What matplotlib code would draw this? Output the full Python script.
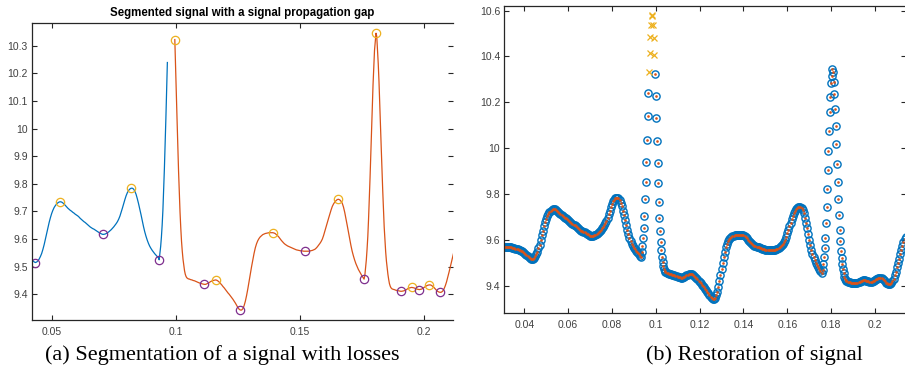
import numpy as np
import matplotlib
matplotlib.use("Agg")
import matplotlib.pyplot as plt
from matplotlib.ticker import FixedLocator, FuncFormatter

plt.rcParams["font.family"] = ["Liberation Sans", "DejaVu Sans"]

# ---- sampled signal -------------------------------------------------------
# slow part before the first spike, 0.5 ms grid starting at 31 ms
seg_a_v = [9.570, 9.570, 9.569, 9.569, 9.568, 9.568, 9.567, 9.566, 9.565, 9.564,
           9.562, 9.561, 9.559, 9.557, 9.555, 9.553, 9.550, 9.547, 9.544, 9.540,
           9.536, 9.531, 9.526, 9.521, 9.517, 9.515, 9.517, 9.521, 9.528, 9.537,
           9.548, 9.563, 9.580, 9.600, 9.620, 9.640, 9.660, 9.677, 9.692, 9.704,
           9.714, 9.721, 9.727, 9.731, 9.734, 9.735, 9.734, 9.731, 9.727, 9.722,
           9.717, 9.712, 9.708, 9.704, 9.701, 9.697, 9.694, 9.690, 9.687, 9.684,
           9.680, 9.675, 9.671, 9.667, 9.663, 9.660, 9.656, 9.652, 9.648, 9.644,
           9.641, 9.638, 9.636, 9.633, 9.630, 9.627, 9.624, 9.621, 9.619, 9.617,
           9.617, 9.618, 9.620, 9.623, 9.626, 9.630, 9.634, 9.639, 9.644, 9.650,
           9.656, 9.663, 9.672, 9.683, 9.697, 9.712, 9.728, 9.743, 9.757, 9.768,
           9.776, 9.781, 9.784, 9.784, 9.781, 9.773, 9.762, 9.746, 9.728, 9.708,
           9.688, 9.666, 9.645, 9.626, 9.610, 9.596, 9.584, 9.574, 9.566, 9.559,
           9.553, 9.547, 9.542, 9.537, 9.532]
seg_a_t0 = 0.031

# first spike, native 0.3 ms sampling
peak1_v = [9.525, 9.548, 9.573, 9.607, 9.650, 9.704, 9.777, 9.854, 9.941, 10.036,
           10.142, 10.239, 10.334, 10.417, 10.486, 10.537, 10.578, 10.582, 10.535,
           10.482, 10.407, 10.322, 10.229, 10.130, 10.033, 9.934, 9.847, 9.766,
           9.697, 9.640, 9.592, 9.556, 9.527, 9.505, 9.486, 9.473, 9.465, 9.460]
peak1_t0 = 0.0933

# middle part, 0.5 ms grid
seg_b_v = [9.456, 9.455, 9.453, 9.452, 9.450, 9.449, 9.447, 9.445, 9.443, 9.441,
           9.440, 9.438, 9.437, 9.436, 9.436, 9.438, 9.440, 9.443, 9.446, 9.448,
           9.450, 9.451, 9.452, 9.451, 9.448, 9.444, 9.439, 9.434, 9.428, 9.423,
           9.417, 9.411, 9.405, 9.400, 9.394, 9.388, 9.382, 9.375, 9.368, 9.360,
           9.352, 9.346, 9.343, 9.343, 9.348, 9.359, 9.375, 9.396, 9.420, 9.447,
           9.474, 9.500, 9.525, 9.548, 9.568, 9.583, 9.594, 9.602, 9.608, 9.612,
           9.616, 9.618, 9.620, 9.621, 9.622, 9.623, 9.623, 9.623, 9.623, 9.622,
           9.620, 9.616, 9.612, 9.607, 9.601, 9.595, 9.590, 9.585, 9.581, 9.578,
           9.575, 9.573, 9.571, 9.569, 9.567, 9.565, 9.563, 9.561, 9.560, 9.559,
           9.558, 9.557, 9.557, 9.556, 9.556, 9.556, 9.556, 9.556, 9.557, 9.558,
           9.559, 9.561, 9.563, 9.567, 9.572, 9.578, 9.584, 9.591, 9.600, 9.613,
           9.628, 9.644, 9.660, 9.675, 9.690, 9.705, 9.718, 9.727, 9.734, 9.739,
           9.743, 9.744, 9.742, 9.737, 9.730, 9.716, 9.697, 9.674, 9.650, 9.625,
           9.600, 9.577, 9.556, 9.539, 9.524, 9.511, 9.500, 9.490, 9.482, 9.474,
           9.466]
seg_b_t0 = 0.105

# second spike, native 0.3 ms sampling
peak2_v = [9.455, 9.468, 9.495, 9.524, 9.563, 9.609, 9.672, 9.745, 9.821, 9.905,
           9.989, 10.075, 10.157, 10.225, 10.283, 10.316, 10.345, 10.334, 10.287,
           10.235, 10.171, 10.095, 10.017, 9.932, 9.851, 9.777, 9.708, 9.643,
           9.596, 9.553, 9.520, 9.495, 9.472, 9.454, 9.439, 9.430, 9.424]
peak2_t0 = 0.1758

# tail, 0.5 ms grid
seg_c_v = [9.420, 9.418, 9.417, 9.415, 9.414, 9.413, 9.412, 9.411, 9.411, 9.412,
           9.413, 9.415, 9.418, 9.421, 9.423, 9.424, 9.425, 9.424, 9.423, 9.421,
           9.419, 9.418, 9.417, 9.418, 9.419, 9.422, 9.425, 9.428, 9.431, 9.433,
           9.434, 9.434, 9.432, 9.428, 9.424, 9.419, 9.414, 9.410, 9.408, 9.407,
           9.408, 9.412, 9.420, 9.431, 9.445, 9.462, 9.480, 9.499, 9.518, 9.537,
           9.556, 9.574, 9.590, 9.602, 9.612]
seg_c_t0 = 0.187

COARSE_DT = 0.0005
FINE_DT = 0.0003

# samples lost between the end of segment 1 and the start of segment 2
gap_window = (0.0968, 0.0995)

# approximate times of the segment extrema
maxima_t = [0.0535, 0.0823, 0.0996, 0.1160, 0.1394, 0.1656, 0.1806, 0.1950, 0.2023]
minima_t = [0.0435, 0.0710, 0.0933, 0.1117, 0.1263, 0.1525, 0.1758, 0.1910, 0.1982, 0.2067]

left_xticks = [0.05, 0.1, 0.15, 0.2]
left_yticks = [9.4, 9.5, 9.6, 9.7, 9.8, 9.9, 10.0, 10.1, 10.2, 10.3]
right_xticks = [0.04, 0.06, 0.08, 0.1, 0.12, 0.14, 0.16, 0.18, 0.2]
right_yticks = [9.4, 9.6, 9.8, 10.0, 10.2, 10.4, 10.6]

title_text = "Segmented signal with a signal propagation gap"
caption_a = "(a) Segmentation of a signal with losses"
caption_b = "(b) Restoration of signal"

C_BLUE = "#0072BD"
C_ORANGE = "#D95319"
C_YELLOW = "#EDB120"
C_PURPLE = "#7E2F8E"
TICK_COLOR = "#262626"


def grid(t0, dt, vals):
    return t0 + dt * np.arange(len(vals))


t = np.concatenate([grid(seg_a_t0, COARSE_DT, seg_a_v),
                    grid(peak1_t0, FINE_DT, peak1_v),
                    grid(seg_b_t0, COARSE_DT, seg_b_v),
                    grid(peak2_t0, FINE_DT, peak2_v),
                    grid(seg_c_t0, COARSE_DT, seg_c_v)])
v = np.concatenate([seg_a_v, peak1_v, seg_b_v, peak2_v, seg_c_v]).astype(float)
order = np.argsort(t)
t, v = t[order], v[order]

lost = (t > gap_window[0]) & (t < gap_window[1])
kept = ~lost
seg1 = t <= gap_window[0]
seg2 = t >= gap_window[1]


def local_extreme(times, fn):
    idx = []
    for tc in times:
        w = np.where(kept & (np.abs(t - tc) <= 0.0008))[0]
        idx.append(w[fn(v[w])])
    return np.array(idx)


imax = local_extreme(maxima_t, np.argmax)
imin = local_extreme(minima_t, np.argmin)

fmt = FuncFormatter(lambda x, pos: f"{x:g}")

fig = plt.figure(figsize=(9.05, 3.76), dpi=100)

# ---- (a) segmented signal --------------------------------------------------
ax1 = fig.add_axes([32 / 905, 56 / 376, 420.5 / 905, 297 / 376])
ax1.plot(t[seg1], v[seg1], color=C_BLUE, lw=0.9)
ax1.plot(t[seg2], v[seg2], color=C_ORANGE, lw=0.9)
ax1.plot(t[imax], v[imax], "o", mfc="none", mec=C_YELLOW, ms=6, mew=0.9)
ax1.plot(t[imin], v[imin], "o", mfc="none", mec=C_PURPLE, ms=6, mew=0.9)
ax1.set_xlim(0.0421, 0.2114)
ax1.set_ylim(9.307, 10.382)
ax1.xaxis.set_major_locator(FixedLocator(left_xticks))
ax1.yaxis.set_major_locator(FixedLocator(left_yticks))
ax1.spines["right"].set_visible(False)
ax1.set_title(title_text, fontsize=8.3, fontweight="bold", pad=5)

# ---- (b) restored signal ---------------------------------------------------
ax2 = fig.add_axes([504.3 / 905, 62.7 / 376, 402 / 905, 307.3 / 376])
ax2.plot(t[kept], v[kept], "o", mfc="none", mec=C_BLUE, ms=5.2, mew=1.0, ls="none")
ax2.plot(t[kept], v[kept], "o", color=C_ORANGE, ms=1.9, mew=0, ls="none")
ax2.plot(t[lost], v[lost], "x", color=C_YELLOW, ms=4.5, mew=0.9, ls="none")
ax2.set_xlim(0.0309, 0.2143)
ax2.set_ylim(9.28, 10.62)
ax2.xaxis.set_major_locator(FixedLocator(right_xticks))
ax2.yaxis.set_major_locator(FixedLocator(right_yticks))

for ax in (ax1, ax2):
    ax.xaxis.set_major_formatter(fmt)
    ax.yaxis.set_major_formatter(fmt)
    ax.tick_params(direction="in", length=3.5, width=0.8, top=True, right=True,
                   labelsize=7.5, labelcolor="#404040", color=TICK_COLOR, pad=3)
    ax.tick_params(axis="x", pad=5)
    for s in ax.spines.values():
        s.set_linewidth(0.9)
        s.set_color(TICK_COLOR)

fig.text(222 / 905, 1 - 355 / 376, caption_a, ha="center", va="center",
         family=["Liberation Serif", "DejaVu Serif"], fontsize=16)
fig.text(754 / 905, 1 - 355 / 376, caption_b, ha="center", va="center",
         family=["Liberation Serif", "DejaVu Serif"], fontsize=16)

fig.savefig("out.png", dpi=100)
